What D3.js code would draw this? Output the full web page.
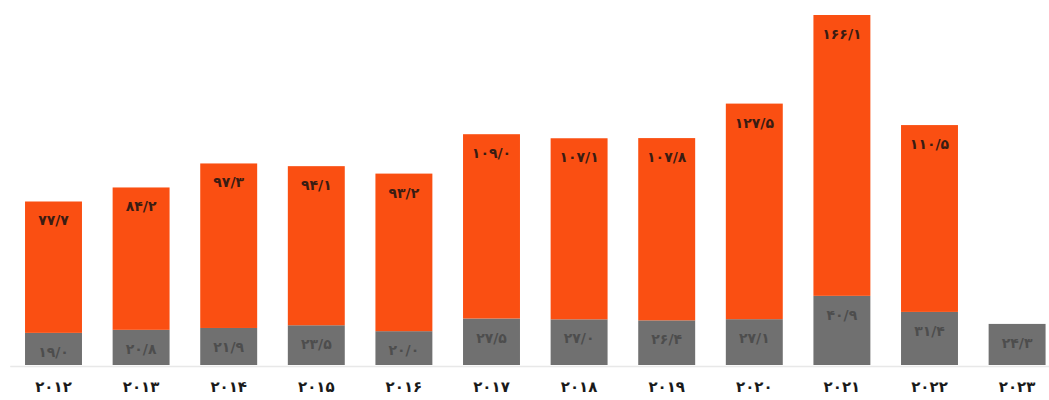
<!DOCTYPE html>
<html>
<head>
<meta charset="utf-8">
<script src="https://cdn.jsdelivr.net/npm/d3@7"></script>
<style>
  html, body { margin: 0; padding: 0; background: #ffffff; }
  svg { display: block; }
</style>
</head>
<body>
<svg id="chart" width="1049" height="400"></svg>
<script>
const years = ['۲۰۱۲','۲۰۱۳','۲۰۱۴','۲۰۱۵','۲۰۱۶','۲۰۱۷','۲۰۱۸','۲۰۱۹','۲۰۲۰','۲۰۲۱','۲۰۲۲','۲۰۲۳'];
const grayValues = [19.0, 20.8, 21.9, 23.5, 20.0, 27.5, 27.0, 26.4, 27.1, 40.9, 31.4, 24.3];
const orangeValues = [77.7, 84.2, 97.3, 94.1, 93.2, 109.0, 107.1, 107.8, 127.5, 166.1, 110.5, null];

const fa = '۰۱۲۳۴۵۶۷۸۹';
function toFa(v) {
  return v.toFixed(1).replace('.', '/').replace(/[0-9]/g, d => fa[+d]);
}

const table = years.map((y, i) => ({ year: y, gray: grayValues[i], orange: orangeValues[i] || 0 }));
const series = d3.stack().keys(['gray', 'orange'])(table);

const svg = d3.select('#chart');
const baseY = 365;
const x = d3.scaleBand().domain(years).range([9.7, 1060.9]).paddingInner(0.35).paddingOuter(0.175);
const y = d3.scaleLinear().domain([0, 207]).range([baseY, 15]);

const colors = { gray: '#707070', orange: '#fa4f12' };
const textColors = { gray: '#4d4d4d', orange: '#3a1c12' };

// baseline / axis
const axis = d3.axisBottom(x).tickSize(0).tickPadding(15);
const ax = svg.append('g').attr('transform', `translate(0,${baseY + 1})`).call(axis);
ax.select('.domain').attr('stroke', '#e8e8e8').attr('stroke-width', 1.5);
ax.selectAll('text')
  .attr('font-family', '"DejaVu Sans", sans-serif')
  .attr('font-weight', 'bold')
  .attr('font-size', 15)
  .attr('letter-spacing', 4)
  .attr('fill', '#1a1a1a');

series.forEach(s => {
  const g = svg.append('g');
  g.selectAll('rect').data(s.filter(d => d[1] > d[0])).join('rect')
    .attr('x', d => x(d.data.year))
    .attr('width', x.bandwidth())
    .attr('y', d => y(d[1]))
    .attr('height', d => y(d[0]) - y(d[1]))
    .attr('fill', colors[s.key]);
  g.selectAll('text').data(s.filter(d => d[1] > d[0])).join('text')
    .attr('x', d => x(d.data.year) + x.bandwidth() / 2)
    .attr('y', d => y(d[1]) + 24)
    .attr('text-anchor', 'middle')
    .attr('font-family', '"DejaVu Sans", sans-serif')
    .attr('font-weight', 'bold')
    .attr('font-size', 14)
    .attr('letter-spacing', 1)
    .attr('fill', textColors[s.key])
    .text(d => toFa(d.data[s.key]));
});
</script>
</body>
</html>
